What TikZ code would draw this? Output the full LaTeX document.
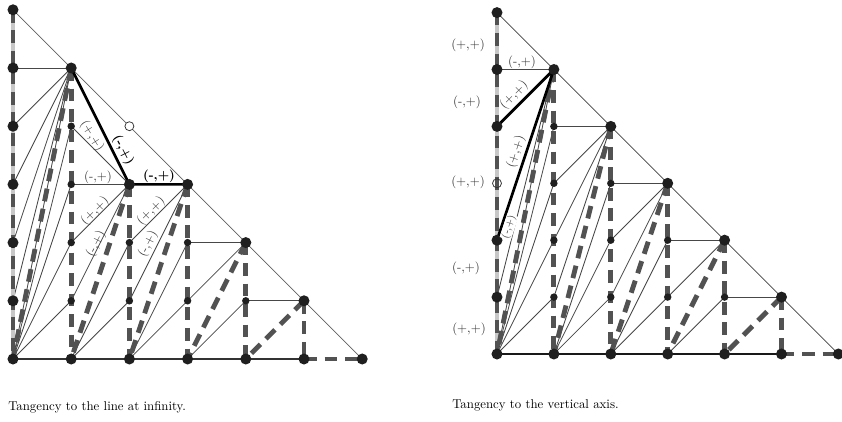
\documentclass[tikz,border=0pt]{standalone}
\usepackage{tikz}
\begin{document}
\begin{tikzpicture}[x=0.78pt,y=-0.78pt,
  thinline/.style={draw=black!72,line width=0.65pt},
  hypline/.style={draw=black!62,line width=0.6pt},
  botline/.style={draw=black!80,line width=0.8pt},
  thickline/.style={draw=black,line width=2.1pt},
  dashline/.style={draw=black!68,line width=3.8pt,dash pattern=on 10pt off 6pt},
  grayline/.style={draw=black!22,line width=3pt},
  bigdot/.style={circle,fill=black!88,inner sep=0pt,minimum size=8.6pt},
  smalldot/.style={circle,fill=black!88,inner sep=0pt,minimum size=5.8pt},
  opendot/.style={circle,draw=black!80,line width=0.6pt,inner sep=0pt,minimum size=7pt},
  lbl/.style={inner sep=0.5pt,text=black!80,font=\normalsize},
  blbl/.style={inner sep=0.5pt,text=black,font=\bfseries}]
\useasboundingbox (0,0) rectangle (842,422);
\foreach \i in {0,...,6}{\foreach \j in {0,...,6}{
  \coordinate (L\i\j) at ({13+58.2*\i},{359-58.2*\j});
  \coordinate (R\i\j) at ({497+56.9*\i},{354-56.9*\j});
}}
% ---------------- LEFT ----------------
\draw[hypline] (L06) -- (L60);
\draw[botline] (L00) -- (L50);
\foreach \a/\b in {05/15,13/23,32/42,41/51,
  15/04,15/03,15/02,15/01,15/00,00/11,00/12,00/13,00/14,
  23/14,23/12,23/11,10/21,10/22,
  33/22,33/21,20/31,20/32,
  42/31,30/41}
  \draw[thinline] (L\a) -- (L\b);
\draw[grayline] (L00) -- (L06);
\foreach \a/\b in {06/00,15/00,15/10,23/10,23/20,33/20,33/30,42/30,42/40,51/40,51/50,50/60}
  \draw[dashline] (L\a) -- (L\b);
\draw[thickline] (L15) -- (L23) -- (L33);
\foreach \p in {00,01,02,03,04,05,06,15,10,23,20,33,30,42,40,51,50,60}
  \node[bigdot] (dL\p) at (L\p) {};
\foreach \p in {11,12,13,14,21,22,31,32,41}
  \node[smalldot] (dL\p) at (L\p) {};
\node[opendot,fill=white] (oL24) at (L24) {};
\node[lbl] (l1) at (98,177) {(-,+)};
\node[blbl] (l2) at (159,176) {(-,+)};
\node[blbl,rotate=-63] (l3) at (123,150) {(-,+)};
\node[lbl,rotate=-58] (l4) at (92,136) {(+,+)};
\node[lbl,rotate=45] (l5) at (95,211) {(+,+)};
\node[lbl,rotate=63] (l6) at (96,244) {(-,+)};
\node[lbl,rotate=45] (l7) at (151,211) {(+,+)};
\node[lbl,rotate=63] (l8) at (148,244) {(-,+)};
\node[anchor=base west,inner sep=0pt] (capL) at (8,410) {Tangency to the line at infinity.};
% ---------------- RIGHT ----------------
\draw[hypline,draw=black!75] (R06) -- (R60);
\draw[botline,draw=black!90,line width=1pt] (R00) -- (R50);
\foreach \a/\b in {05/15,14/24,23/33,32/42,41/51,
  15/01,15/00,00/11,00/12,00/13,00/14,
  24/13,24/12,24/11,10/21,10/22,10/23,
  33/22,33/21,20/31,20/32,
  42/31,30/41}
  \draw[thinline] (R\a) -- (R\b);
\draw[grayline] (R00) -- (R06);
\foreach \a/\b in {06/00,15/00,15/10,24/10,24/20,33/20,33/30,42/30,42/40,51/40,51/50,50/60}
  \draw[dashline] (R\a) -- (R\b);
\draw[thickline] (R04) -- (R15) -- (R02);
\foreach \p in {00,01,02,04,05,06,15,10,24,20,33,30,42,40,51,50,60}
  \node[bigdot] (dR\p) at (R\p) {};
\foreach \p in {11,12,13,14,21,22,23,31,32,41}
  \node[smalldot] (dR\p) at (R\p) {};
\node[opendot] (oR03) at (R03) {};
\node[lbl] (r1) at (468,45) {(+,+)};
\node[lbl] (r2) at (522,62) {(-,+)};
\node[lbl] (r3) at (467,102) {(-,+)};
\node[lbl,rotate=45] (r4) at (514,95) {(+,+)};
\node[lbl,rotate=72] (r5) at (516,152) {(+,+)};
\node[lbl] (r6) at (468,182) {(+,+)};
\node[lbl,rotate=72,fill=white,font=\footnotesize] (r7) at (509,227) {(-,+)};
\node[lbl] (r8) at (466,268) {(-,+)};
\node[lbl] (r9) at (469,329) {(+,+)};
\node[anchor=base west,inner sep=0pt] (capR) at (452,408) {Tangency to the vertical axis.};
\end{tikzpicture}
\end{document}
